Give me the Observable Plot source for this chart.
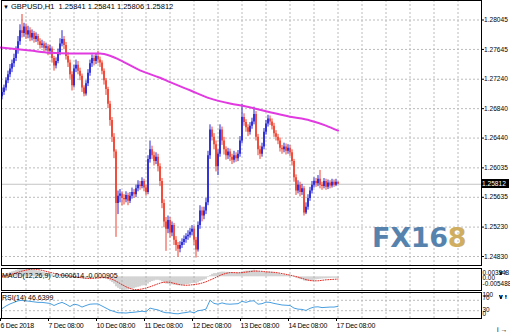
<!DOCTYPE html>
<html><head><meta charset="utf-8">
<script src="https://cdn.jsdelivr.net/npm/d3@7"></script>
<script src="https://cdn.jsdelivr.net/npm/@observablehq/plot@0.6"></script>
<style>
body{margin:0;background:#fff;}
#wrap{position:relative;width:510px;height:334px;overflow:hidden;background:#fff;font-family:"Liberation Sans",Arial,sans-serif;}
#wrap svg{position:absolute;left:0;}
.lbl{position:absolute;font-size:7px;color:#000;white-space:nowrap;line-height:9px;}
.rsi g[aria-label="x-axis tick label"] text{letter-spacing:-0.25px;}
</style></head><body><div id="wrap"></div>
<script>
// ---------- DATA (GBPUSD H1, bars from 6 Dec 2018 08:00) ----------
const open = [
1.2700,1.2706,1.2712,1.2722,1.2730,1.2738,1.2745,1.2752,1.2763,1.2775,
1.2790,1.2786,1.2795,1.2784,1.2790,1.2780,1.2786,1.2778,1.2782,1.2775,
1.2770,1.2772,1.2766,1.2768,1.2762,1.2765,1.2752,1.2742,1.2748,1.2760,
1.2772,1.2778,1.2770,1.2755,1.2746,1.2730,1.2715,1.2738,1.2743,1.2735,
1.2728,1.2712,1.2704,1.2718,1.2732,1.2745,1.2752,1.2748,1.2755,1.2750,
1.2746,1.2735,1.2722,1.2710,1.2690,1.2668,1.2645,1.2625,1.2555,1.2565,
1.2568,1.2562,1.2560,1.2566,1.2558,1.2565,1.2570,1.2567,1.2575,1.2580,
1.2578,1.2585,1.2576,1.2570,1.2615,1.2628,1.2620,1.2612,1.2618,1.2605,
1.2585,1.2555,1.2530,1.2520,1.2532,1.2515,1.2525,1.2505,1.2498,1.2493,
1.2498,1.2502,1.2506,1.2510,1.2512,1.2516,1.2520,1.2505,1.2492,1.2525,
1.2545,1.2538,1.2545,1.2556,1.2620,1.2655,1.2645,1.2635,1.2605,1.2622,
1.2655,1.2640,1.2628,1.2620,1.2625,1.2618,1.2614,1.2620,1.2616,1.2622,
1.2640,1.2672,1.2665,1.2658,1.2652,1.2660,1.2666,1.2676,1.2645,1.2628,
1.2622,1.2632,1.2652,1.2663,1.2670,1.2666,1.2660,1.2650,1.2645,1.2640,
1.2630,1.2628,1.2632,1.2626,1.2630,1.2624,1.2612,1.2590,1.2572,1.2580,
1.2570,1.2575,1.2542,1.2550,1.2562,1.2572,1.2580,1.2585,1.2582,1.2588,
1.2580,1.2578,1.2585,1.2577,1.2583,1.2579,1.2584,1.2580,1.25841];
const high = [
1.2712,1.2716,1.2726,1.2735,1.2744,1.2750,1.2758,1.2768,1.2782,1.2798,
1.2812,1.2800,1.2799,1.2796,1.2794,1.2791,1.2789,1.2787,1.2785,1.2779,
1.2777,1.2775,1.2773,1.2771,1.2770,1.2768,1.2755,1.2753,1.2765,1.2779,
1.2790,1.2782,1.2774,1.2760,1.2750,1.2734,1.2743,1.2750,1.2748,1.2739,
1.2731,1.2715,1.2722,1.2737,1.2750,1.2757,1.2756,1.2759,1.2762,1.2754,
1.2749,1.2738,1.2725,1.2713,1.2694,1.2672,1.2650,1.2628,1.2572,1.2574,
1.2571,1.2567,1.2571,1.2569,1.2570,1.2576,1.2574,1.2580,1.2586,1.2585,
1.2590,1.2588,1.2580,1.2620,1.2640,1.2633,1.2625,1.2624,1.2622,1.2609,
1.2589,1.2560,1.2536,1.2538,1.2536,1.2530,1.2528,1.2510,1.2502,1.2503,
1.2507,1.2511,1.2514,1.2518,1.2521,1.2525,1.2524,1.2509,1.2530,1.2552,
1.2550,1.2550,1.2562,1.2626,1.2662,1.2659,1.2650,1.2640,1.2628,1.2662,
1.2659,1.2645,1.2632,1.2630,1.2629,1.2622,1.2626,1.2624,1.2627,1.2646,
1.2690,1.2677,1.2669,1.2662,1.2665,1.2671,1.2686,1.2680,1.2649,1.2633,
1.2637,1.2657,1.2668,1.2675,1.2674,1.2670,1.2664,1.2654,1.2649,1.2644,
1.2634,1.2637,1.2636,1.2635,1.2634,1.2628,1.2615,1.2594,1.2586,1.2584,
1.2581,1.2578,1.2556,1.2567,1.2577,1.2585,1.2590,1.2589,1.2593,1.2600,
1.2584,1.2589,1.2588,1.2587,1.2586,1.2588,1.2587,1.2588,1.25841];
const low = [
1.2696,1.2702,1.2708,1.2718,1.2726,1.2733,1.2740,1.2748,1.2758,1.2770,
1.2780,1.2781,1.2778,1.2779,1.2775,1.2776,1.2773,1.2774,1.2770,1.2765,
1.2766,1.2761,1.2762,1.2756,1.2757,1.2746,1.2735,1.2738,1.2745,1.2756,
1.2768,1.2764,1.2750,1.2740,1.2724,1.2708,1.2712,1.2733,1.2730,1.2722,
1.2706,1.2700,1.2701,1.2714,1.2728,1.2740,1.2742,1.2744,1.2745,1.2740,
1.2730,1.2716,1.2702,1.2684,1.2660,1.2638,1.2616,1.2509,1.2540,1.2556,
1.2552,1.2553,1.2556,1.2552,1.2555,1.2561,1.2562,1.2563,1.2571,1.2573,
1.2575,1.2571,1.2565,1.2567,1.2610,1.2615,1.2606,1.2608,1.2598,1.2578,
1.2548,1.2522,1.2490,1.2514,1.2508,1.2510,1.2498,1.2490,1.2482,1.2488,
1.2494,1.2498,1.2501,1.2505,1.2508,1.2511,1.2498,1.2481,1.2489,1.2520,
1.2530,1.2533,1.2540,1.2552,1.2615,1.2640,1.2628,1.2598,1.2593,1.2618,
1.2634,1.2621,1.2614,1.2615,1.2612,1.2608,1.2610,1.2611,1.2612,1.2618,
1.2636,1.2660,1.2652,1.2646,1.2648,1.2656,1.2662,1.2640,1.2620,1.2615,
1.2618,1.2628,1.2648,1.2659,1.2661,1.2655,1.2645,1.2640,1.2635,1.2625,
1.2622,1.2624,1.2621,1.2622,1.2619,1.2606,1.2584,1.2566,1.2568,1.2564,
1.2566,1.2538,1.2540,1.2546,1.2558,1.2568,1.2576,1.2577,1.2578,1.2575,
1.2573,1.2575,1.2573,1.2574,1.2575,1.2576,1.2577,1.2578,1.25806];
const close = [
1.2706,1.2712,1.2722,1.2730,1.2738,1.2745,1.2752,1.2763,1.2775,1.2790,
1.2786,1.2795,1.2784,1.2790,1.2780,1.2786,1.2778,1.2782,1.2775,1.2770,
1.2772,1.2766,1.2768,1.2762,1.2765,1.2752,1.2742,1.2748,1.2760,1.2772,
1.2778,1.2770,1.2755,1.2746,1.2730,1.2715,1.2738,1.2743,1.2735,1.2728,
1.2712,1.2704,1.2718,1.2732,1.2745,1.2752,1.2748,1.2755,1.2750,1.2746,
1.2735,1.2722,1.2710,1.2690,1.2668,1.2645,1.2625,1.2555,1.2565,1.2568,
1.2562,1.2560,1.2566,1.2558,1.2565,1.2570,1.2567,1.2575,1.2580,1.2578,
1.2585,1.2576,1.2570,1.2615,1.2628,1.2620,1.2612,1.2618,1.2605,1.2585,
1.2555,1.2530,1.2520,1.2532,1.2515,1.2525,1.2505,1.2498,1.2493,1.2498,
1.2502,1.2506,1.2510,1.2512,1.2516,1.2520,1.2505,1.2492,1.2525,1.2545,
1.2538,1.2545,1.2556,1.2620,1.2655,1.2645,1.2635,1.2605,1.2622,1.2655,
1.2640,1.2628,1.2620,1.2625,1.2618,1.2614,1.2620,1.2616,1.2622,1.2640,
1.2672,1.2665,1.2658,1.2652,1.2660,1.2666,1.2676,1.2645,1.2628,1.2622,
1.2632,1.2652,1.2663,1.2670,1.2666,1.2660,1.2650,1.2645,1.2640,1.2630,
1.2628,1.2632,1.2626,1.2630,1.2624,1.2612,1.2590,1.2572,1.2580,1.2570,
1.2575,1.2542,1.2550,1.2562,1.2572,1.2580,1.2585,1.2582,1.2588,1.2580,
1.2578,1.2585,1.2577,1.2583,1.2579,1.2584,1.2580,1.25841,1.25812];

// moving average (magenta), read at bar positions
const maBars = [-0.75, 14, 24, 34, 49, 54, 59, 69, 79, 84, 94, 104, 114, 122, 134, 144, 154, 162, 168];
const maVals = [1.2767,1.2763,1.2760,1.2759,1.2759,1.2756,1.2750,1.2736,1.2726,1.2720,1.2709,1.2698,1.2691,1.2687,1.2679,1.2673,1.2668,1.2661,1.2654];

// MACD(12,26,9) main, one value per bar
const macdMain = [
0.0005,0.0008,0.0011,0.0014,0.0017,0.0020,0.0022,0.0025,0.0028,0.0031,
0.0032,0.0033,0.003343,0.0032,0.0031,0.0029,0.0027,0.0025,0.0023,0.0021,
0.0019,0.0017,0.0015,0.0013,0.0012,0.0009,0.0006,0.0004,0.0004,0.0005,
0.0006,0.0006,0.0004,0.0002,-0.0001,-0.0005,-0.0005,-0.0004,-0.0004,-0.0005,
-0.0007,-0.0010,-0.0010,-0.0008,-0.0006,-0.0004,-0.0003,-0.0002,-0.0001,-0.0001,
-0.0002,-0.0005,-0.0008,-0.0012,-0.0017,-0.0023,-0.0029,-0.0040,-0.0046,-0.0051,
-0.0054,-0.005488,-0.0054,-0.0053,-0.0051,-0.0049,-0.0047,-0.0044,-0.0042,-0.0040,
-0.0037,-0.0036,-0.0035,-0.0029,-0.0023,-0.0019,-0.0017,-0.0014,-0.0014,-0.0016,
-0.0020,-0.0025,-0.0029,-0.0030,-0.0032,-0.0032,-0.0034,-0.0035,-0.0036,-0.0036,
-0.0035,-0.0034,-0.0032,-0.0031,-0.0029,-0.0027,-0.0027,-0.0028,-0.0024,-0.0019,
-0.0016,-0.0013,-0.0010,-0.0003,0.0005,0.0010,0.0013,0.0013,0.0014,0.0018,
0.0019,0.0019,0.0018,0.0018,0.0017,0.0016,0.0016,0.0015,0.0015,0.0016,
0.0020,0.0022,0.0023,0.0023,0.0024,0.0025,0.0027,0.0025,0.0022,0.0019,
0.0017,0.0017,0.0018,0.0019,0.0019,0.0018,0.0016,0.0014,0.0012,0.0010,
0.0008,0.0007,0.0006,0.0005,0.0004,0.0002,-0.0002,-0.0006,-0.0008,-0.0011,
-0.0012,-0.0017,-0.0019,-0.0019,-0.0018,-0.0016,-0.0014,-0.0012,-0.0011,-0.0010,
-0.0009,-0.0008,-0.0008,-0.0007,-0.0007,-0.0006,-0.0006,-0.0006,-0.000614];
// MACD signal, every second bar (0,2,...,168)
const macdSignal = [
0.0002,0.0005,0.0009,0.0013,0.0018,0.0023,0.0027,0.0030,0.0031,0.0029,
0.0026,0.0022,0.0018,0.0014,0.0010,0.0007,0.0005,0.0003,0.0001,-0.0002,
-0.0004,-0.0006,-0.0007,-0.0006,-0.0005,-0.0003,-0.0004,-0.0007,-0.0013,-0.0022,
-0.0031,-0.0040,-0.0047,-0.0051,-0.0051,-0.0049,-0.0045,-0.0040,-0.0034,-0.0028,
-0.0023,-0.0021,-0.0022,-0.0026,-0.0030,-0.0033,-0.0034,-0.0033,-0.0031,-0.0029,
-0.0025,-0.0020,-0.0013,-0.0006,0.0002,0.0009,0.0014,0.0017,0.0017,0.0016,
0.0017,0.0019,0.0021,0.0023,0.0023,0.0022,0.0020,0.0019,0.0018,0.0016,
0.0013,0.0010,0.0007,0.0003,-0.0001,-0.0006,-0.0011,-0.0015,-0.0016,-0.0016,
-0.0014,-0.0012,-0.0011,-0.0010,-0.000905];
// RSI(14), every second bar (0,2,...,168)
const rsi = [
38,48,56,62,68,70,68,66,64,62,
62,60,58,50,57,62,55,46,55,52,
44,50,55,56,56,48,40,32,27,22,
22,21,23,24,26,28,26,40,36,33,
26,22,22,19,18,21,23,26,22,30,
32,36,70,58,55,60,56,55,56,57,
66,62,67,68,55,57,63,62,58,55,
52,51,50,40,36,35,31,39,44,45,
42,43,44,44,46.6399];

const priceTicks = [1.28045,1.27645,1.27240,1.26840,1.26440,1.26035,1.25635,1.25230,1.24830];
const dateTickBars = [0,24,48,72,96,120,144,168];
const dateLabels = ["6 Dec 2018","7 Dec 08:00","10 Dec 08:00","11 Dec 08:00","12 Dec 08:00","13 Dec 08:00","14 Dec 08:00","17 Dec 08:00"];
const titleText = ["GBPUSD,H1","1.25841","1.25841","1.25806","1.25812"];
const macdLabel = "MACD(12,26,9) -0.000614 -0.000905";
const rsiLabel = "RSI(14) 46.6399";
const lastPrice = 1.25812;

// ---------- BUILD ----------
const bars = close.map((c, i) => ({i, o: open[i], h: high[i], l: low[i], c, up: c >= open[i]}));
const ma = maBars.map((b, k) => ({i: b, v: maVals[k]}));
const macd = macdMain.map((v, i) => ({i, v}));
const sig = macdSignal.map((v, k) => ({i: k * 2, v}));
const rsiData = rsi.map((v, k) => ({i: k * 2, v}));

const W = 510, ML = 1, MR = 29;
const xDomain = [-0.25, 239.75];
const gridBars = d3.range(12, 240, 12);
const BLUE = "#2424d6", RED = "#f0402e", GRID = "#bcbcbc";
const font = {fontFamily: "Liberation Sans, Arial, sans-serif", fontSize: "7px", background: "transparent", color: "#000", overflow: "visible"};
const rLab = {anchor: "right", tickSize: 0, tickPadding: 1, fontSize: 6.4, fill: "#000"};

const wrap = document.getElementById("wrap");

const main = Plot.plot({
  width: W, height: 266, marginLeft: ML, marginRight: MR, marginTop: 0, marginBottom: 1,
  style: font,
  x: {domain: xDomain, axis: null},
  y: {domain: [1.247077, 1.283101], axis: null},
  marks: [
    Plot.gridX(gridBars, {stroke: GRID, strokeOpacity: 1, strokeDasharray: "2,2"}),
    Plot.gridY(priceTicks, {stroke: GRID, strokeOpacity: 1, strokeDasharray: "2,2"}),
    Plot.ruleY([lastPrice], {stroke: "#c4c4c4"}),
    Plot.ruleX(bars.filter(d => d.up), {x: "i", y1: "l", y2: "h", stroke: BLUE, strokeWidth: 1}),
    Plot.ruleX(bars.filter(d => !d.up), {x: "i", y1: "l", y2: "h", stroke: RED, strokeWidth: 1}),
    Plot.ruleX(bars.filter(d => d.up), {x: "i", y1: "o", y2: "c", stroke: BLUE, strokeWidth: 1.7}),
    Plot.ruleX(bars.filter(d => !d.up), {x: "i", y1: "o", y2: "c", stroke: RED, strokeWidth: 1.7}),
    Plot.line(ma, {x: "i", y: "v", stroke: "#e03ae0", strokeWidth: 2, curve: "monotone-x"}),
    Plot.axisY(priceTicks, {anchor: "right", tickSize: 2, tickPadding: 0.5, fontSize: 6.6, tickFormat: d => d.toFixed(5), fill: "#000", stroke: "#000"}),
    Plot.frame({stroke: "#000"})
  ]
});
main.style.top = "0px";
wrap.appendChild(main);

const macdPlot = Plot.plot({
  width: W, height: 24, marginLeft: ML, marginRight: MR, marginTop: 1, marginBottom: 1,
  style: font,
  x: {domain: xDomain, axis: null},
  y: {domain: [-0.005488, 0.003343], axis: null},
  marks: [
    Plot.gridX(gridBars, {stroke: GRID, strokeOpacity: 1, strokeDasharray: "2,2"}),
    Plot.ruleX(macd, {x: "i", y1: 0, y2: "v", stroke: "#a8a8a8", strokeWidth: 1}),
    Plot.line(sig, {x: "i", y: "v", stroke: "#e0302a", strokeWidth: 1, strokeDasharray: "1,1.5"}),
    Plot.axisY([0.003343], {...rLab, dy: 4, tickFormat: () => "0.003343"}),
    Plot.axisY([0], {...rLab, dy: 1, tickFormat: () => "0.00"}),
    Plot.axisY([-0.005488], {...rLab, dy: -7, tickFormat: () => "-0.005488"}),
    Plot.frame({stroke: "#000"})
  ]
});
macdPlot.style.top = "267px";
wrap.appendChild(macdPlot);

const rsiPlot = Plot.plot({
  width: W, height: 43, marginLeft: ML, marginRight: MR, marginTop: 1, marginBottom: 16,
  className: "rsi",
  style: font,
  x: {domain: xDomain, axis: null},
  y: {domain: [0, 100], axis: null},
  marks: [
    Plot.gridX(gridBars, {stroke: GRID, strokeOpacity: 1, strokeDasharray: "2,2"}),
    Plot.ruleY([30, 70], {stroke: GRID, strokeDasharray: "2,2"}),
    Plot.line(rsiData, {x: "i", y: "v", stroke: "#4a9fe0", strokeWidth: 1}),
    Plot.axisY([100], {...rLab, dy: 2, tickFormat: () => "100"}),
    Plot.axisY([70], {...rLab, dy: -2, tickFormat: () => "70"}),
    Plot.axisY([30], {...rLab, dy: -1, tickFormat: () => "30"}),
    Plot.axisY([0], {...rLab, dy: -5, tickFormat: () => "0"}),
    Plot.axisX(dateTickBars, {anchor: "bottom", tickSize: 3, tickPadding: 2, fontSize: 7, textAnchor: "start", dx: -1.5,
      tickFormat: d => dateLabels[dateTickBars.indexOf(d)], fill: "#000", stroke: "#000"}),
    Plot.frame({stroke: "#000"})
  ]
});
rsiPlot.style.top = "291px";
wrap.appendChild(rsiPlot);

// overlays
function addLabel(html, left, top, extra) {
  const d = document.createElement("div");
  d.className = "lbl";
  d.style.left = left + "px"; d.style.top = top + "px";
  if (extra) Object.assign(d.style, extra);
  d.innerHTML = html;
  wrap.appendChild(d);
  return d;
}
addLabel('<span style="font-size:6px">▼</span>&nbsp;' + titleText[0] + '&nbsp;&nbsp;' + titleText.slice(1).join('&nbsp;'), 3, 2, {fontSize: "7.5px"});
addLabel(macdLabel, 2, 271);
addLabel(rsiLabel, 2, 293);
const yLast = main.scale("y").apply(lastPrice);
addLabel("1.25812", 481, yLast - 4.5, {background: "#000", color: "#fff", width: "28px", height: "9px", paddingLeft: "1px", boxSizing: "border-box", fontSize: "6.6px"});
addLabel('FX16<span style="color:#cfae62">8</span>', 372, 223,
  {fontFamily: "DejaVu Sans, sans-serif", fontWeight: "bold", fontSize: "27px", lineHeight: "30px", color: "#5683ad", letterSpacing: "-0.3px"});
</script></body></html>
